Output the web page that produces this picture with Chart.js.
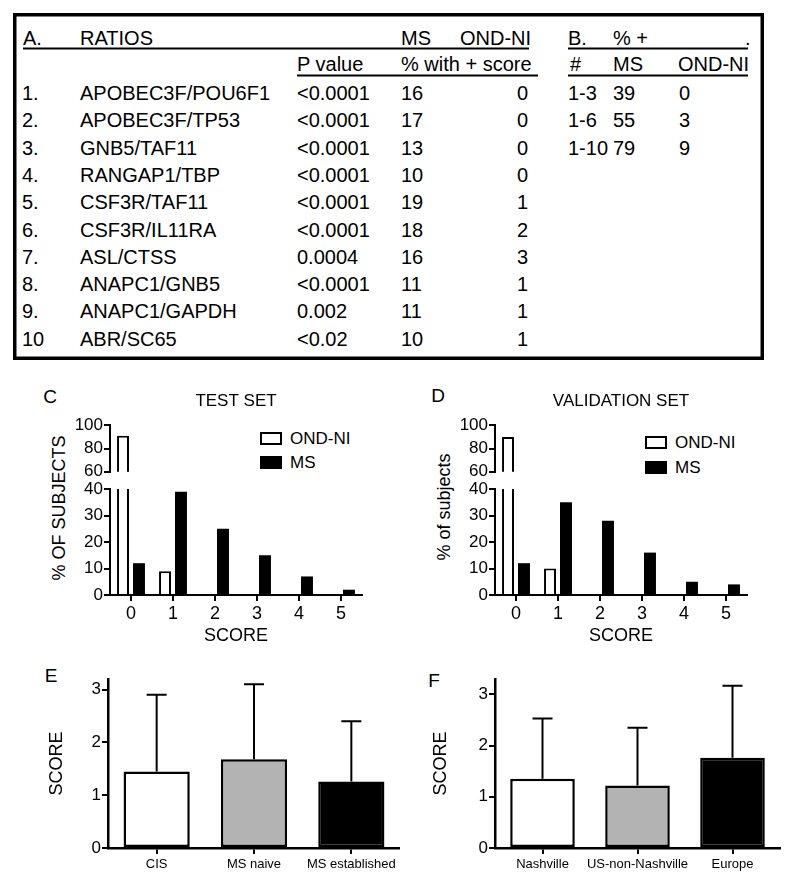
<!DOCTYPE html>
<html lang="en">
<head>
<meta charset="UTF-8">
<title>Ratio scores in MS and OND-NI</title>
<script src="https://cdn.jsdelivr.net/npm/chart.js@4.4.1/dist/chart.umd.min.js"></script>
<style>
    body {
        margin: 0;
        background: #fff;
        font-family: "Liberation Sans", Arial, sans-serif;
        color: #000;
    }
    #page {
        position: relative;
        width: 794px;
        height: 884px;
        overflow: hidden;
    }
    canvas, svg, .abs {
        position: absolute;
    }
    .centered {
        transform: translate(-50%, -50%);
        white-space: nowrap;
        line-height: 1;
    }
    .rotated {
        transform: translate(-50%, -50%) rotate(-90deg);
        white-space: nowrap;
        line-height: 1;
        font-size: 18px;
    }
    .letter { font-size: 19px; }
    .legend-item {
        display: flex;
        align-items: center;
        font-size: 17px;
        line-height: 1;
        white-space: nowrap;
    }
    .legend-item span.box {
        display: inline-block;
        width: 22px;
        height: 13px;
        box-sizing: border-box;
        border: 2px solid #000;
        margin-right: 8px;
    }
</style>
</head>
<body>
<div id="page">
    <svg id="table" width="794" height="370" style="left:0;top:0"></svg>

    <div class="abs centered letter" style="left:50px;top:396px">C</div>
    <div class="abs centered letter" style="left:438px;top:395px">D</div>
    <div class="abs centered letter" style="left:51px;top:675px">E</div>
    <div class="abs centered letter" style="left:434px;top:680px">F</div>

    <div class="abs rotated" style="left:59px;top:508px">% OF SUBJECTS</div>
    <div class="abs rotated" style="left:444px;top:507px">% of subjects</div>

    <div id="legendC" class="abs" style="left:260px;top:430px"></div>
    <div id="legendD" class="abs" style="left:645px;top:434px"></div>

    <canvas id="testUpper" width="400" height="103" style="left:0;top:380px"></canvas>
    <canvas id="testLower" width="400" height="180" style="left:0;top:470px"></canvas>
    <canvas id="validUpper" width="394" height="103" style="left:400px;top:380px"></canvas>
    <canvas id="validLower" width="394" height="180" style="left:400px;top:470px"></canvas>
    <canvas id="stageChart" width="400" height="224" style="left:0;top:660px"></canvas>
    <canvas id="siteChart" width="394" height="224" style="left:400px;top:660px"></canvas>
</div>

<script>
    // --- table A: single ratios ---
    const rowNumbers = ['1.', '2.', '3.', '4.', '5.', '6.', '7.', '8.', '9.', '10'];
    const ratioNames = ['APOBEC3F/POU6F1', 'APOBEC3F/TP53', 'GNB5/TAF11', 'RANGAP1/TBP', 'CSF3R/TAF11',
                        'CSF3R/IL11RA', 'ASL/CTSS', 'ANAPC1/GNB5', 'ANAPC1/GAPDH', 'ABR/SC65'];
    const pValues = ['<0.0001', '<0.0001', '<0.0001', '<0.0001', '<0.0001',
                     '<0.0001', '0.0004', '<0.0001', '0.002', '<0.02'];
    const msPositive = [16, 17, 13, 10, 19, 18, 16, 11, 11, 10];
    const ondPositive = [0, 0, 0, 0, 1, 2, 3, 1, 1, 1];

    // --- table B: combined ratios ---
    const comboRanges = ['1-3', '1-6', '1-10'];
    const comboMs = [39, 55, 79];
    const comboOnd = [0, 3, 9];

    // --- C / D: score distributions ---
    const seriesNames = ['OND-NI', 'MS'];
    const scores = ['0', '1', '2', '3', '4', '5'];
    const testOnd = [91, 9, 0, 0, 0, 0];
    const testMs = [12, 39, 25, 15, 7, 2];
    const validOnd = [90, 10, 0, 0, 0, 0];
    const validMs = [12, 35, 28, 16, 5, 4];
    const upperTicks = [60, 80, 100];
    const lowerTicks = [0, 10, 20, 30, 40];

    // --- E / F: mean score + SD ---
    const stageGroups = ['CIS', 'MS naive', 'MS established'];
    const stageMeans = [1.45, 1.68, 1.26];
    const stageSd = [1.45, 1.42, 1.14];
    const siteGroups = ['Nashville', 'US-non-Nashville', 'Europe'];
    const siteMeans = [1.35, 1.22, 1.76];
    const siteSd = [1.18, 1.13, 1.41];
    const scoreTicks = [0, 1, 2, 3];

    Chart.defaults.font.family = '"Liberation Sans", Arial, sans-serif';
    Chart.defaults.color = '#000';
    Chart.defaults.animation = false;

    // ---------- table ----------
    function buildTable() {
        const svg = document.getElementById('table');
        const ns = 'http://www.w3.org/2000/svg';
        function add(tag, attrs, text) {
            const el = document.createElementNS(ns, tag);
            for (const k in attrs) el.setAttribute(k, attrs[k]);
            if (text !== undefined) el.textContent = text;
            svg.appendChild(el);
            return el;
        }
        function txt(x, y, s, anchor) {
            add('text', {x: x, y: y, 'font-size': 20, 'font-family': '"Liberation Sans", Arial, sans-serif',
                         'text-anchor': anchor || 'start', fill: '#000'}, s);
        }
        function line(x1, x2, y) {
            add('line', {x1: x1, x2: x2, y1: y, y2: y, stroke: '#000', 'stroke-width': 2});
        }
        add('rect', {x: 14.75, y: 14.75, width: 747.5, height: 343.5, fill: 'none', stroke: '#000', 'stroke-width': 3.5});

        txt(23, 45, 'A.');
        txt(80, 45, 'RATIOS');
        txt(401, 45, 'MS');
        txt(460, 45, 'OND-NI');
        txt(568, 45, 'B.');
        txt(613, 45, '% +');
        txt(745, 45, '.');
        line(23, 529, 48.5);
        line(568, 748, 48.5);

        txt(297, 71, 'P value');
        txt(401, 71, '% with + score');
        txt(570, 71, '#');
        txt(613, 71, 'MS');
        txt(678, 71, 'OND-NI');
        line(297, 538, 75.5);
        line(568, 748, 75.5);

        ratioNames.forEach((name, i) => {
            const y = 100 + i * 27.3;
            txt(22, y, rowNumbers[i]);
            txt(80, y, name);
            txt(297, y, pValues[i]);
            txt(401, y, String(msPositive[i]));
            txt(528, y, String(ondPositive[i]), 'end');
        });
        comboRanges.forEach((r, i) => {
            const y = 100 + i * 27.3;
            txt(568, y, r);
            txt(613, y, String(comboMs[i]));
            txt(679, y, String(comboOnd[i]));
        });
    }

    function buildLegend(id, gap) {
        const el = document.getElementById(id);
        const fills = ['#fff', '#000'];
        seriesNames.forEach((name, i) => {
            const item = document.createElement('div');
            item.className = 'legend-item';
            item.style.marginBottom = i === 0 ? gap + 'px' : '0';
            item.innerHTML = '<span class="box" style="background:' + fills[i] + '"></span>' + name;
            el.appendChild(item);
        });
    }

    // ---------- broken-axis score charts ----------
    function yAxis(min, max, ticks, width) {
        return {
            min: min,
            max: max,
            afterBuildTicks: s => { s.ticks = ticks.map(v => ({value: v})); },
            afterFit: s => { s.width = width; },
            border: {display: true, color: '#000', width: 2},
            grid: {drawOnChartArea: false, color: '#000', lineWidth: 2, tickLength: 6},
            ticks: {color: '#000', font: {size: 17}, padding: 1, autoSkip: false}
        };
    }

    function scoreDatasets(ond, ms) {
        const common = {clip: 0, categoryPercentage: 0.76, barPercentage: 0.75, borderColor: '#000'};
        return [
            Object.assign({label: seriesNames[0], data: ond, backgroundColor: '#fff', borderWidth: 2}, common),
            Object.assign({label: seriesNames[1], data: ms, backgroundColor: '#000', borderWidth: 0}, common)
        ];
    }

    function upperChart(id, title, ond, ms, padL, padR) {
        new Chart(document.getElementById(id), {
            type: 'bar',
            data: {labels: scores, datasets: scoreDatasets(ond, ms)},
            options: {
                responsive: false,
                layout: {padding: {left: padL, right: padR, top: 0, bottom: 10}},
                plugins: {
                    legend: {display: false},
                    tooltip: {enabled: false},
                    title: {display: true, text: title, color: '#000', fullSize: false,
                            font: {size: 17, weight: 'normal'}, padding: {top: 11, bottom: 14}}
                },
                scales: {
                    x: {type: 'category', offset: true, display: false},
                    y: yAxis(60, 100, upperTicks, 60)
                }
            }
        });
    }

    function lowerChart(id, ond, ms, padL, padR) {
        new Chart(document.getElementById(id), {
            type: 'bar',
            data: {labels: scores, datasets: scoreDatasets(ond, ms)},
            options: {
                responsive: false,
                layout: {padding: {left: padL, right: padR, top: 19, bottom: 3}},
                plugins: {legend: {display: false}, tooltip: {enabled: false}},
                scales: {
                    x: {
                        type: 'category', offset: true,
                        afterFit: s => { s.height = 52; },
                        border: {display: true, color: '#000', width: 2},
                        grid: {drawOnChartArea: false, offset: false, color: '#000', lineWidth: 2, tickLength: 6},
                        ticks: {color: '#000', font: {size: 18}, padding: 2, maxRotation: 0, autoSkip: false},
                        title: {display: true, text: 'SCORE', color: '#000', font: {size: 18}, padding: 0}
                    },
                    y: yAxis(0, 40, lowerTicks, 60)
                }
            }
        });
    }

    // ---------- mean + SD charts ----------
    const errorBars = {
        id: 'errorBars',
        afterDatasetsDraw(chart, args, opts) {
            const ctx = chart.ctx;
            const y = chart.scales.y;
            const meta = chart.getDatasetMeta(0);
            const means = chart.data.datasets[0].data;
            ctx.save();
            ctx.strokeStyle = '#000';
            ctx.lineWidth = 2;
            meta.data.forEach((bar, i) => {
                const top = y.getPixelForValue(means[i] + opts.sd[i]);
                ctx.beginPath();
                ctx.moveTo(bar.x, bar.y);
                ctx.lineTo(bar.x, top);
                ctx.moveTo(bar.x - 10, top);
                ctx.lineTo(bar.x + 10, top);
                ctx.stroke();
            });
            ctx.restore();
        }
    };

    function meanChart(id, groups, means, sd, yMax, padL, padR, yWidth) {
        new Chart(document.getElementById(id), {
            type: 'bar',
            data: {
                labels: groups,
                datasets: [{
                    data: means,
                    backgroundColor: ['#fff', '#b3b3b3', '#000'],
                    borderColor: '#000',
                    borderWidth: 2.5,
                    borderSkipped: false,
                    categoryPercentage: 1,
                    barPercentage: 0.68
                }]
            },
            plugins: [errorBars],
            options: {
                responsive: false,
                layout: {padding: {left: padL, right: padR, top: 19, bottom: 0}},
                plugins: {
                    legend: {display: false},
                    tooltip: {enabled: false},
                    errorBars: {sd: sd}
                },
                scales: {
                    x: {
                        afterFit: s => { s.height = 36; },
                        border: {display: true, color: '#000', width: 2.5},
                        grid: {drawOnChartArea: false, offset: false, color: '#000', lineWidth: 2, tickLength: 6},
                        ticks: {color: '#000', font: {size: 13}, padding: 3, maxRotation: 0, autoSkip: false}
                    },
                    y: {
                        min: 0,
                        max: yMax,
                        afterBuildTicks: s => { s.ticks = scoreTicks.map(v => ({value: v})); },
                        afterFit: s => { s.width = yWidth; },
                        border: {display: true, color: '#000', width: 2.5},
                        grid: {drawOnChartArea: false, color: '#000', lineWidth: 2, tickLength: 6},
                        ticks: {color: '#000', font: {size: 17}, padding: 1, autoSkip: false},
                        title: {display: true, text: 'SCORE', color: '#000', font: {size: 18}, padding: 0}
                    }
                }
            }
        });
    }

    buildTable();
    buildLegend('legendC', 7);
    buildLegend('legendD', 8);

    upperChart('testUpper', 'TEST SET', testOnd, testMs, 50, 38);
    lowerChart('testLower', testOnd, testMs, 50, 38);
    upperChart('validUpper', 'VALIDATION SET', validOnd, validMs, 35, 47);
    lowerChart('validLower', validOnd, validMs, 35, 47);

    meanChart('stageChart', stageGroups, stageMeans, stageSd, 3.2, 46, 0, 62);
    meanChart('siteChart', siteGroups, siteMeans, siteSd, 3.3, 30, 14, 65);
</script>
</body>
</html>
